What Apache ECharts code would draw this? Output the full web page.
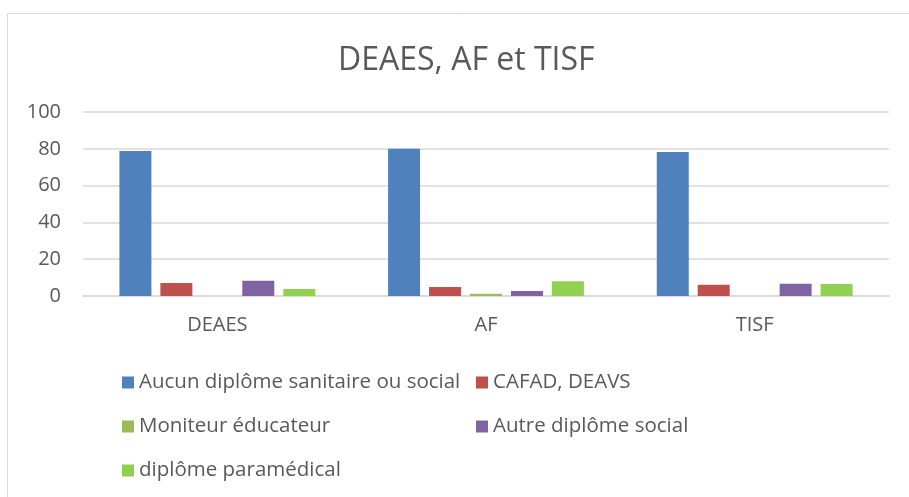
<!DOCTYPE html>
<html>
<head>
<meta charset="utf-8">
<script src="https://cdn.jsdelivr.net/npm/echarts@6/dist/echarts.min.js"></script>
<style>
  html, body { margin: 0; padding: 0; background: #fff; }
  #chart { width: 909px; height: 497px; }
</style>
</head>
<body>
<div id="chart"></div>
<script>
var categories = ["DEAES", "AF", "TISF"];
var seriesNames = [
  "Aucun diplôme sanitaire ou social",
  "CAFAD, DEAVS",
  "Moniteur éducateur",
  "Autre diplôme social",
  "diplôme paramédical"
];
var aucun = [78.8, 80, 78.3];
var cafad = [7.1, 4.9, 6.1];
var moniteur = [0, 1.2, 0];
var autre = [8.3, 2.7, 6.7];
var paramedical = [3.8, 8.0, 6.5];
var colors = ["#4F81BD", "#C0504D", "#9BBB59", "#8064A2", "#92D050"];
var yTicks = [0, 20, 40, 60, 80, 100];

var font = "'Open Sans', 'Liberation Sans', sans-serif";
var textColor = "#595959";

var chart = echarts.init(document.getElementById("chart"));
var values = [aucun, cafad, moniteur, autre, paramedical];

var series = [];
for (var i = 0; i < seriesNames.length; i++) {
  series.push({
    name: seriesNames[i],
    type: "bar",
    data: values[i],
    barWidth: 32,
    barGap: "28%",
    itemStyle: { color: colors[i] }
  });
}

var legendText = { color: textColor, fontSize: 20.5, fontFamily: font };
var option = {
  animation: false,
  color: colors,
  title: {
    text: "DEAES, AF et TISF",
    left: 333,
    top: 40,
    textStyle: { color: textColor, fontSize: 32, fontWeight: "normal", fontFamily: font }
  },
  graphic: [{
    type: "rect",
    shape: { x: 7.5, y: 13.5, width: 1000, height: 1000 },
    style: { fill: "none", stroke: "#d9d9d9", lineWidth: 1 },
    silent: true
  }],
  legend: [{
    orient: "vertical",
    left: 117,
    top: 367,
    itemWidth: 12,
    itemHeight: 12,
    itemGap: 23,
    itemTextGap: 6,
    icon: "rect",
    textStyle: legendText,
    data: [seriesNames[0], seriesNames[2], seriesNames[4]]
  }, {
    orient: "vertical",
    left: 471,
    top: 367,
    itemWidth: 12,
    itemHeight: 12,
    itemGap: 23,
    itemTextGap: 6,
    icon: "rect",
    textStyle: legendText,
    data: [seriesNames[1], seriesNames[3]]
  }],
  grid: { left: 83, right: 20, top: 112, bottom: 201, containLabel: false },
  xAxis: {
    type: "category",
    data: categories,
    axisLine: { lineStyle: { color: "#d9d9d9", width: 1.5 } },
    axisTick: { show: false },
    axisLabel: { color: textColor, fontSize: 20, fontFamily: font, margin: 19 }
  },
  yAxis: {
    type: "value",
    min: yTicks[0],
    max: yTicks[yTicks.length - 1],
    interval: yTicks[1] - yTicks[0],
    axisLine: { show: false },
    axisTick: { show: false },
    splitLine: { lineStyle: { color: "#d9d9d9", width: 1.5 } },
    axisLabel: { color: textColor, fontSize: 20, fontFamily: font, margin: 22 }
  },
  series: series
};
chart.setOption(option);
</script>
</body>
</html>
